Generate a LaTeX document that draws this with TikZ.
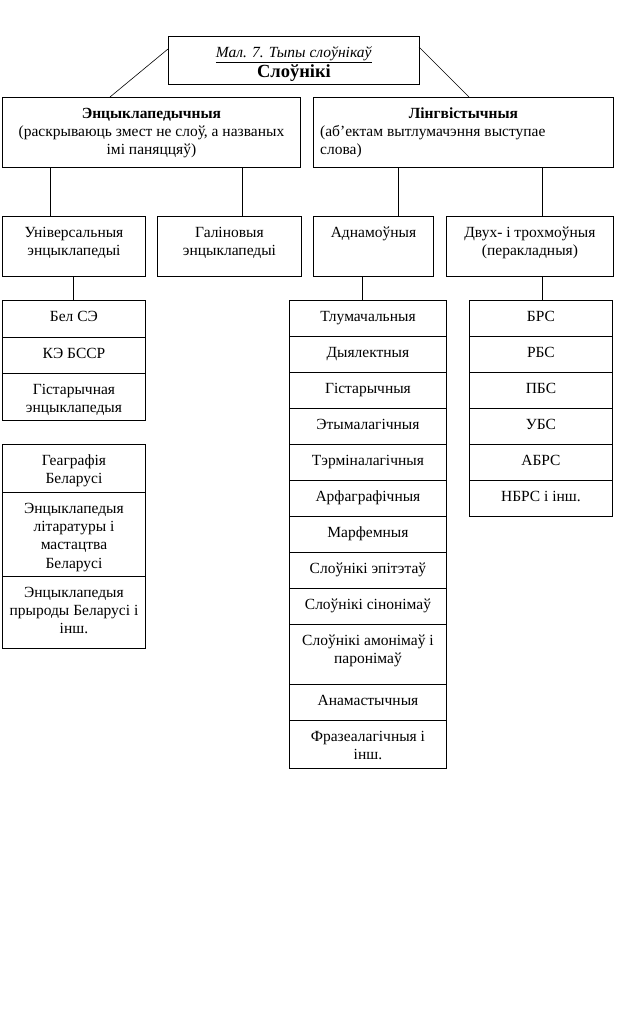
\documentclass[tikz,border=0pt]{standalone}
\usepackage{fontspec}
\setmainfont{Liberation Serif}
\begin{document}
\begin{tikzpicture}[x=1pt,y=-1pt,
  box/.style={draw, line width=0.9pt, inner sep=0pt, anchor=north west},
  txt/.style={inner sep=0pt, anchor=north, align=center, font=\fontsize{15.5}{18.4}\selectfont},
  conn/.style={line width=0.9pt}]
\useasboundingbox (0,0) rectangle (638,1021);
\newcommand{\cellbox}[6]{%
  \node[box, minimum width=#3-#2, minimum height=#5-#4] (#1) at (#2,#4) {};
  \node[txt] (#1-t) at ([yshift=-8pt]#1.north) {\strut #6};}
% title
\cellbox{title}{168}{419}{36}{84}{\underline{\textit{Мал. 7. Тыпы слоўнікаў}}\\[2pt]{\fontsize{18.5}{20}\selectfont\bfseries Слоўнікі}}
% level 1
\cellbox{enc}{2}{300}{97}{167}{\textbf{Энцыклапедычныя}\\(раскрываюць змест не слоў, а названых\\імі паняццяў)}
\node[box, minimum width=300, minimum height=70] (ling) at (313,97) {};
\node[txt] (ling-t) at ([yshift=-8pt]ling.north) {\strut\textbf{Лінгвістычныя}};
\node[txt, anchor=north west, align=left] (ling-d) at (320,123) {\strut(аб’ектам вытлумачэння выступае\\слова)};
% level 2
\cellbox{uni}{2}{145}{216}{276}{Універсальныя\\энцыклапедыі}
\cellbox{gal}{157}{301}{216}{276}{Галіновыя\\энцыклапедыі}
\cellbox{adn}{313}{433}{216}{276}{Аднамоўныя}
\cellbox{dvuh}{446}{613}{216}{276}{Двух- і трохмоўныя\\(перакладныя)}
% left stacks
\cellbox{bel}{2}{145}{300}{337}{Бел СЭ}
\cellbox{ke}{2}{145}{337}{373}{КЭ БССР}
\cellbox{gist}{2}{145}{373}{420}{Гістарычная\\энцыклапедыя}
\cellbox{geog}{2}{145}{444}{492}{Геаграфія\\Беларусі}
\cellbox{lit}{2}{145}{492}{576}{Энцыклапедыя\\літаратуры і\\мастацтва\\Беларусі}
\cellbox{pryr}{2}{145}{576}{648}{Энцыклапедыя\\прыроды Беларусі і\\інш.}
% middle stack
\cellbox{m1}{289}{446}{300}{336}{Тлумачальныя}
\cellbox{m2}{289}{446}{336}{372}{Дыялектныя}
\cellbox{m3}{289}{446}{372}{408}{Гістарычныя}
\cellbox{m4}{289}{446}{408}{444}{Этымалагічныя}
\cellbox{m5}{289}{446}{444}{480}{Тэрміналагічныя}
\cellbox{m6}{289}{446}{480}{516}{Арфаграфічныя}
\cellbox{m7}{289}{446}{516}{552}{Марфемныя}
\cellbox{m8}{289}{446}{552}{588}{Слоўнікі эпітэтаў}
\cellbox{m9}{289}{446}{588}{624}{Слоўнікі сінонімаў}
\cellbox{m10}{289}{446}{624}{684}{Слоўнікі амонімаў і\\паронімаў}
\cellbox{m11}{289}{446}{684}{720}{Анамастычныя}
\cellbox{m12}{289}{446}{720}{768}{Фразеалагічныя і\\інш.}
% right stack
\cellbox{r1}{469}{612}{300}{336}{БРС}
\cellbox{r2}{469}{612}{336}{372}{РБС}
\cellbox{r3}{469}{612}{372}{408}{ПБС}
\cellbox{r4}{469}{612}{408}{444}{УБС}
\cellbox{r5}{469}{612}{444}{480}{АБРС}
\cellbox{r6}{469}{612}{480}{516}{НБРС і інш.}
% connector columns
\coordinate (c50) at (50,0);
\coordinate (c242) at (242,0);
\coordinate (c398) at (398,0);
\coordinate (c542) at (542,0);
\coordinate (c73) at (73,0);
\coordinate (c362) at (362,0);
\coordinate (tl) at (168,49);
\coordinate (tr) at (419,47);
\coordinate (el) at (110,0);
\coordinate (lr) at (469,0);
% connectors
\draw[conn, line width=0.6pt] (tl) -- (enc.north -| el);
\draw[conn, line width=0.6pt] (tr) -- (ling.north -| lr);
\draw[conn] (enc.south -| c50) -- (uni.north -| c50);
\draw[conn] (enc.south -| c242) -- (gal.north -| c242);
\draw[conn] (ling.south -| c398) -- (adn.north -| c398);
\draw[conn] (ling.south -| c542) -- (dvuh.north -| c542);
\draw[conn] (uni.south -| c73) -- (bel.north -| c73);
\draw[conn] (adn.south -| c362) -- (m1.north -| c362);
\draw[conn] (dvuh.south -| c542) -- (r1.north -| c542);
\end{tikzpicture}
\end{document}
